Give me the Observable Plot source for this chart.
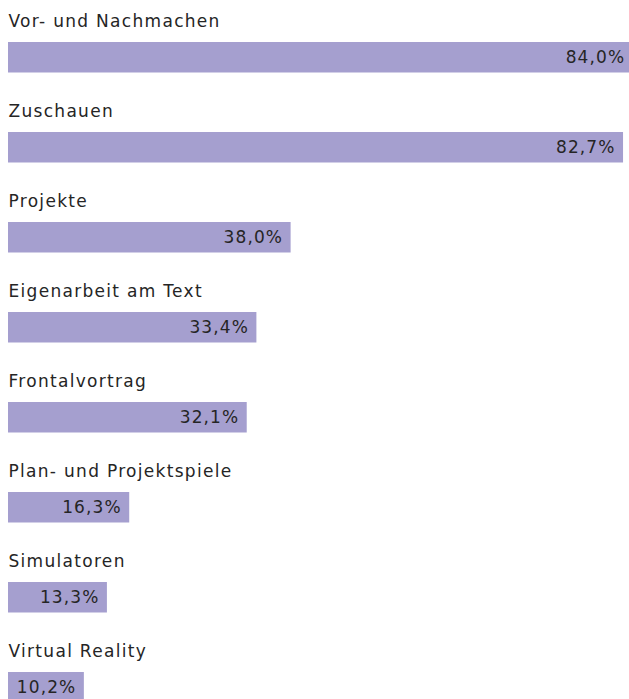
<!DOCTYPE html>
<html>
<head>
<meta charset="utf-8">
<script src="https://cdn.jsdelivr.net/npm/d3@7"></script>
<script src="https://cdn.jsdelivr.net/npm/@observablehq/plot@0.6"></script>
<style>
  html, body { margin: 0; padding: 0; background: #fff; }
  svg { display: block; }
  .lbl text { letter-spacing: 1.3px; }
  .val text { letter-spacing: 1.1px; }
</style>
</head>
<body>
<div id="chart"></div>
<script>
const categories = ["Vor- und Nachmachen", "Zuschauen", "Projekte", "Eigenarbeit am Text", "Frontalvortrag", "Plan- und Projektspiele", "Simulatoren", "Virtual Reality"];
const values = [84.0, 82.7, 38.0, 33.4, 32.1, 16.3, 13.3, 10.2];
const valueLabels = ["84,0%", "82,7%", "38,0%", "33,4%", "32,1%", "16,3%", "13,3%", "10,2%"];

const data = categories.map((c, i) => ({category: c, value: values[i], label: valueLabels[i]}));
const step = 90.5;
const chart = Plot.plot({
  width: 629,
  height: 699,
  marginLeft: 8,
  marginRight: 0,
  marginTop: 10,
  marginBottom: 0,
  style: {fontFamily: "'DejaVu Sans', sans-serif", background: "#fff", overflow: "hidden"},
  x: {domain: [0, 100], range: [8, 8 + 100 * 7.437], axis: null},
  y: {domain: categories, range: [10, 10 + step * categories.length], padding: 0, axis: null},
  marks: [
    Plot.barX(data, {x: "value", y: "category", fill: "#a59fcf", insetTop: 30, insetBottom: step - 30 - 31}),
    Plot.text(data, {y: "category", text: "category", frameAnchor: "left", textAnchor: "start", dy: -35.5, fontSize: 17, fill: "#252525", className: "lbl"}),
    Plot.text(data, {x: "value", y: "category", text: "label", textAnchor: "end", dx: -8, dy: 0.5, fontSize: 17, fill: "#252525", className: "val"})
  ]
});
document.getElementById("chart").appendChild(chart);
</script>
</body>
</html>
